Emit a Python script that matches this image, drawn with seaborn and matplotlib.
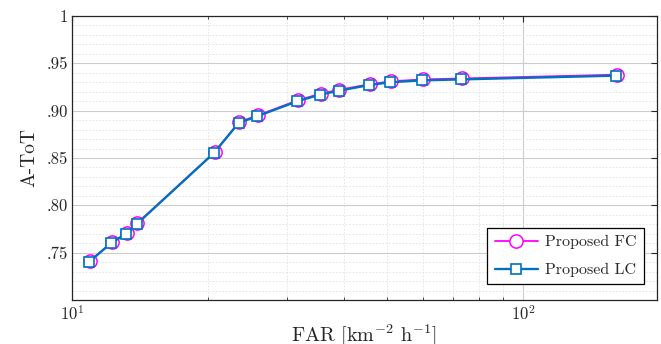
import matplotlib
matplotlib.use("Agg")
import matplotlib.pyplot as plt
import matplotlib.ticker as mticker
import seaborn as sns
import pandas as pd
import numpy as np

# ---- data ----
far_lc = [10.9, 12.2, 13.2, 13.9, 20.6, 23.4, 25.7, 31.6, 35.5, 39.0, 45.5, 50.7, 59.7, 72.8, 160.8]
atot_lc = [0.740, 0.760, 0.770, 0.780, 0.855, 0.887, 0.894, 0.910, 0.917, 0.921, 0.927, 0.930, 0.932, 0.933, 0.937]
far_fc = [10.95, 12.25, 13.25, 13.95, 20.7, 23.5, 25.8, 31.7, 35.6, 39.1, 45.7, 50.9, 59.9, 73.0, 161.2]
atot_fc = [0.741, 0.761, 0.771, 0.781, 0.856, 0.888, 0.895, 0.911, 0.918, 0.922, 0.928, 0.931, 0.933, 0.934, 0.938]
series_names = ["Proposed FC", "Proposed LC"]
ytick_vals = [0.75, 0.80, 0.85, 0.90, 0.95, 1.0]
ytick_labels = [".75", ".80", ".85", ".90", ".95", "1"]

df_fc = pd.DataFrame({"FAR": far_fc, "ATOT": atot_fc})
df_lc = pd.DataFrame({"FAR": far_lc, "ATOT": atot_lc})

sns.set_theme(style="white")
plt.rcParams.update({
    "font.family": ["serif"],
    "font.serif": ["cmr10", "DejaVu Serif"],
    "mathtext.fontset": "cm",
    "axes.unicode_minus": False,
    "axes.formatter.use_mathtext": True,
})

fig = plt.figure(figsize=(6.61, 3.44), dpi=100)
ax = fig.add_axes([0.109, 0.128, 0.885, 0.8255])

sns.lineplot(data=df_fc, x="FAR", y="ATOT", ax=ax, sort=False, estimator=None,
             color="#FF00FF", linewidth=1.3, marker="o", markersize=9.5,
             markerfacecolor="white", markeredgecolor="#FF00FF", markeredgewidth=1.1,
             label=series_names[0], zorder=3)
sns.lineplot(data=df_lc, x="FAR", y="ATOT", ax=ax, sort=False, estimator=None,
             color="#0072BD", linewidth=1.7, marker="s", markersize=7.2,
             markerfacecolor="white", markeredgecolor="#0072BD", markeredgewidth=1.2,
             label=series_names[1], zorder=4)

ax.set_xscale("log")
ax.set_xlim(10, 198)
ax.set_ylim(0.70, 1.0)
ax.set_yticks(ytick_vals)
ax.set_yticklabels(ytick_labels)
ax.yaxis.set_minor_locator(mticker.MultipleLocator(0.01))
ax.xaxis.set_major_locator(mticker.LogLocator(base=10))
ax.xaxis.set_minor_locator(mticker.LogLocator(base=10, subs=np.arange(2, 10)))
ax.xaxis.set_minor_formatter(mticker.NullFormatter())

ax.grid(True, which="major", color="#cccccc", linewidth=0.8, linestyle="-")
ax.grid(True, which="minor", color="#e2e2e2", linewidth=0.6, linestyle=(0, (2, 2)))
ax.set_axisbelow(True)

ax.tick_params(axis="both", which="major", direction="in", length=4, width=0.8,
               top=True, right=True, labelsize=12, colors="#262626", pad=3)
ax.tick_params(axis="x", which="minor", direction="in", length=2.5, width=0.6,
               top=True, bottom=True)
ax.tick_params(axis="y", which="minor", length=0)
for t in ax.get_xticklabels() + ax.get_yticklabels():
    t.set_color("#262626")
for s in ax.spines.values():
    s.set_color("#262626")
    s.set_linewidth(0.9)

ax.set_xlabel(r"FAR [km$^{-2}$ h$^{-1}$]", fontsize=14.5, color="#262626", labelpad=0)
ax.set_ylabel("A-ToT", fontsize=14, color="#262626", labelpad=6)

leg = ax.legend(loc="lower right", fontsize=11.5, frameon=True, fancybox=False,
                edgecolor="black", framealpha=1, handlelength=2.7, handletextpad=0.45,
                borderpad=0.45, labelspacing=0.85, borderaxespad=0,
                bbox_to_anchor=(0.977, 0.055))
leg.get_frame().set_linewidth(0.9)

fig.savefig("out.png", dpi=100)
